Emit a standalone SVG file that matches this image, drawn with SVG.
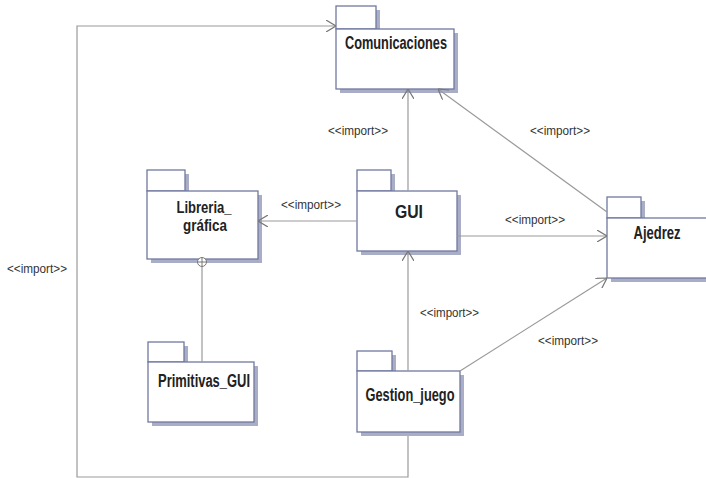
<svg xmlns="http://www.w3.org/2000/svg" width="706" height="478" viewBox="0 0 706 478">
<style>
.shadow{fill:#a9aec6;stroke:none}
.box{fill:#fff;stroke:#7078a0;stroke-width:1.3}
.name{font-family:"Liberation Sans",Arial,sans-serif;font-weight:bold;font-size:18px;fill:#222;text-anchor:middle}
.name2{font-family:"Liberation Sans",Arial,sans-serif;font-weight:bold;font-size:16px;fill:#222;text-anchor:middle}
.lbl{font-family:"Liberation Sans",Arial,sans-serif;font-size:13px;fill:#333}
.conn{stroke:#9a9a9a;stroke-width:1.2;fill:none}
</style>
<defs>
<marker id="arr" viewBox="0 0 10 12" refX="10" refY="6" markerWidth="10" markerHeight="12" markerUnits="userSpaceOnUse" orient="auto">
<path d="M0,0 L10,6 L0,12" fill="none" stroke="#777" stroke-width="1.2"/>
</marker>
</defs>
<rect width="706" height="478" fill="#fff"/>
<g id="Comunicaciones">
<rect class="shadow" x="340" y="10" width="40" height="22"/>
<rect class="shadow" x="340" y="33" width="118" height="60"/>
<rect class="box" x="336" y="6" width="40" height="23"/>
<rect class="box" x="336" y="29" width="118" height="60"/>
<text class="name" x="396" y="49" textLength="102" lengthAdjust="spacingAndGlyphs">Comunicaciones</text>
</g>
<g id="Libreria_grafica">
<rect class="shadow" x="151" y="174" width="38" height="20"/>
<rect class="shadow" x="151" y="195" width="111" height="68"/>
<rect class="box" x="147" y="170" width="38" height="21"/>
<rect class="box" x="147" y="191" width="111" height="68"/>
<text class="name2" x="204" y="213" textLength="55" lengthAdjust="spacingAndGlyphs">Libreria_</text>
<text class="name2" x="205" y="231" textLength="44" lengthAdjust="spacingAndGlyphs">gráfica</text>
</g>
<g id="GUI">
<rect class="shadow" x="361" y="174" width="34" height="20"/>
<rect class="shadow" x="361" y="195" width="100" height="60"/>
<rect class="box" x="357" y="170" width="34" height="21"/>
<rect class="box" x="357" y="191" width="100" height="60"/>
<text class="name" x="409" y="218" textLength="28" lengthAdjust="spacingAndGlyphs">GUI</text>
</g>
<g id="Ajedrez">
<rect class="shadow" x="611" y="201" width="34" height="20"/>
<rect class="shadow" x="611" y="222" width="110" height="60"/>
<rect class="box" x="607" y="197" width="34" height="21"/>
<rect class="box" x="607" y="218" width="110" height="60"/>
<text class="name" x="657" y="239" textLength="47" lengthAdjust="spacingAndGlyphs">Ajedrez</text>
</g>
<g id="Primitivas_GUI">
<rect class="shadow" x="152" y="346" width="36" height="19"/>
<rect class="shadow" x="152" y="366" width="106" height="60"/>
<rect class="box" x="148" y="342" width="36" height="20"/>
<rect class="box" x="148" y="362" width="106" height="60"/>
<text class="name" x="204" y="387" textLength="92" lengthAdjust="spacingAndGlyphs">Primitivas_GUI</text>
</g>
<g id="Gestion_juego">
<rect class="shadow" x="361" y="355" width="35" height="19"/>
<rect class="shadow" x="361" y="375" width="103" height="61"/>
<rect class="box" x="357" y="351" width="35" height="20"/>
<rect class="box" x="357" y="371" width="103" height="61"/>
<text class="name" x="410" y="401" textLength="89" lengthAdjust="spacingAndGlyphs">Gestion_juego</text>
</g>
<g id="connectors">
<polyline class="conn" points="408,436 408,477 77,477 77,26 336,26" marker-end="url(#arr)"/>
<line class="conn" x1="408" y1="191" x2="408" y2="89" marker-end="url(#arr)"/>
<line class="conn" x1="607" y1="212" x2="438" y2="89" marker-end="url(#arr)"/>
<line class="conn" x1="357" y1="221" x2="258" y2="221" marker-end="url(#arr)"/>
<line class="conn" x1="457" y1="236" x2="607" y2="236" marker-end="url(#arr)"/>
<line class="conn" x1="408" y1="371" x2="408" y2="251" marker-end="url(#arr)"/>
<line class="conn" x1="460" y1="371" x2="607" y2="278" marker-end="url(#arr)"/>
<line class="conn" x1="202" y1="267" x2="202" y2="362"/>
<circle cx="202" cy="262" r="4.5" fill="#fff" stroke="#777" stroke-width="1"/>
<line x1="197.5" y1="262" x2="206.5" y2="262" stroke="#777" stroke-width="1"/>
<line x1="202" y1="257.5" x2="202" y2="266.5" stroke="#777" stroke-width="1"/>
<text class="lbl" x="7" y="273" textLength="60" lengthAdjust="spacingAndGlyphs">&lt;&lt;import&gt;&gt;</text>
<text class="lbl" x="328" y="135" textLength="60" lengthAdjust="spacingAndGlyphs">&lt;&lt;import&gt;&gt;</text>
<text class="lbl" x="530" y="135" textLength="60" lengthAdjust="spacingAndGlyphs">&lt;&lt;import&gt;&gt;</text>
<text class="lbl" x="281" y="209" textLength="60" lengthAdjust="spacingAndGlyphs">&lt;&lt;import&gt;&gt;</text>
<text class="lbl" x="505" y="224" textLength="60" lengthAdjust="spacingAndGlyphs">&lt;&lt;import&gt;&gt;</text>
<text class="lbl" x="420" y="317" textLength="59" lengthAdjust="spacingAndGlyphs">&lt;&lt;import&gt;&gt;</text>
<text class="lbl" x="538" y="345" textLength="60" lengthAdjust="spacingAndGlyphs">&lt;&lt;import&gt;&gt;</text>
</g>
</svg>
